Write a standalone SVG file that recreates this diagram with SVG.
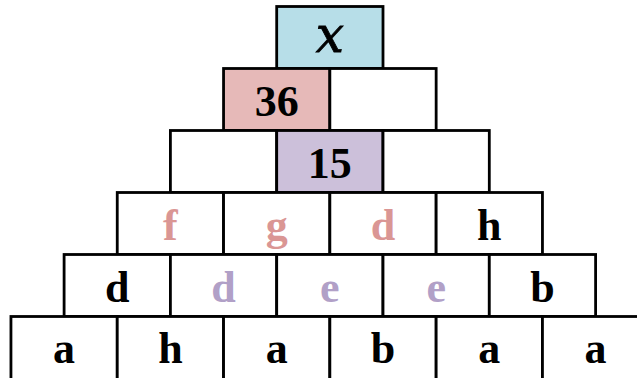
<svg xmlns="http://www.w3.org/2000/svg" width="637" height="378" viewBox="0 0 637 378">
<style>
rect{stroke:#000;stroke-width:2.8;fill:#fff}
text{font-family:"Liberation Serif","DejaVu Serif",serif;font-weight:bold;font-size:44px;text-anchor:middle;fill:#000}
.blue{fill:#B7DEE8}.pink{fill:#E6B9B8}.purp{fill:#CCC0DA}
.tp{fill:#DA9694}.tu{fill:#B1A0C7}
.it{font-family:"DejaVu Serif",serif;font-style:italic;font-weight:normal;font-size:50px;stroke:#000;stroke-width:0.8}
</style>
<rect x="0" y="0" width="637" height="378" style="fill:#fff;stroke:none"/>
<g id="n0"><rect class="blue" x="276.7" y="6.5" width="106.3" height="62"/><text class="it" x="329.85" y="52">x</text></g>
<g id="n1a"><rect class="pink" x="223.55" y="68.5" width="106.3" height="62"/><text x="276.7" y="116">36</text></g>
<g id="n1b"><rect x="329.85" y="68.5" width="106.3" height="62"/></g>
<g id="n2a"><rect x="170.4" y="130.5" width="106.3" height="62"/></g>
<g id="n2b"><rect class="purp" x="276.7" y="130.5" width="106.3" height="62"/><text x="329.85" y="177.5">15</text></g>
<g id="n2c"><rect x="383" y="130.5" width="106.3" height="62"/></g>
<g id="n3a"><rect x="117.25" y="192.5" width="106.3" height="62"/><text class="tp" x="170.4" y="240">f</text></g>
<g id="n3b"><rect x="223.55" y="192.5" width="106.3" height="62"/><text class="tp" x="276.7" y="240">g</text></g>
<g id="n3c"><rect x="329.85" y="192.5" width="106.3" height="62"/><text class="tp" x="383" y="240">d</text></g>
<g id="n3d"><rect x="436.15" y="192.5" width="106.3" height="62"/><text x="489.3" y="240">h</text></g>
<g id="n4a"><rect x="64.1" y="254.5" width="106.3" height="62"/><text x="117.25" y="302">d</text></g>
<g id="n4b"><rect x="170.4" y="254.5" width="106.3" height="62"/><text class="tu" x="223.55" y="302">d</text></g>
<g id="n4c"><rect x="276.7" y="254.5" width="106.3" height="62"/><text class="tu" x="329.85" y="302">e</text></g>
<g id="n4d"><rect x="383" y="254.5" width="106.3" height="62"/><text class="tu" x="436.15" y="302">e</text></g>
<g id="n4e"><rect x="489.3" y="254.5" width="106.3" height="62"/><text x="542.45" y="302">b</text></g>
<g id="n5a"><rect x="10.95" y="316.5" width="106.3" height="66"/><text x="64.1" y="363">a</text></g>
<g id="n5b"><rect x="117.25" y="316.5" width="106.3" height="66"/><text x="170.4" y="363">h</text></g>
<g id="n5c"><rect x="223.55" y="316.5" width="106.3" height="66"/><text x="276.7" y="363">a</text></g>
<g id="n5d"><rect x="329.85" y="316.5" width="106.3" height="66"/><text x="383" y="363">b</text></g>
<g id="n5e"><rect x="436.15" y="316.5" width="106.3" height="66"/><text x="489.3" y="363">a</text></g>
<g id="n5f"><rect x="542.45" y="316.5" width="106.3" height="66"/><text x="595.6" y="363">a</text></g>
<g id="connectors"></g>
</svg>
